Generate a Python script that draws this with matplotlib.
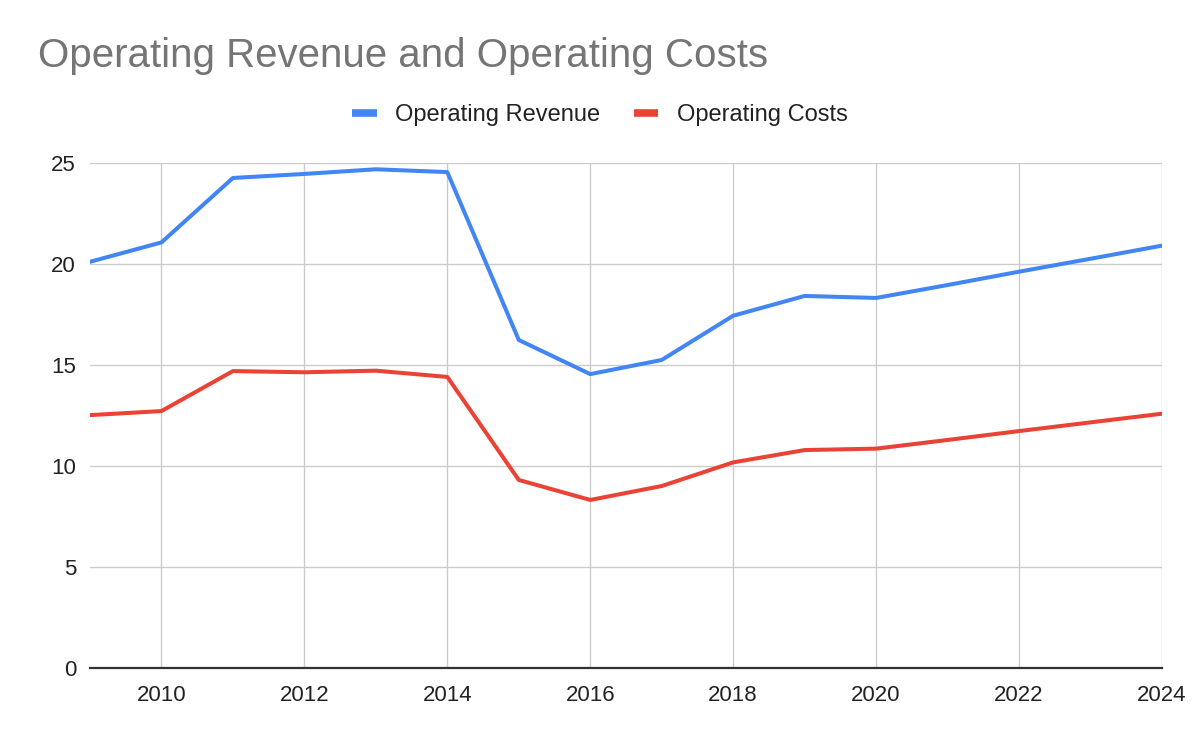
import matplotlib.pyplot as plt

plt.rcParams['font.family'] = ['Liberation Sans', 'DejaVu Sans']

years = [2009, 2010, 2011, 2012, 2013, 2014, 2015, 2016,
         2017, 2018, 2019, 2020, 2021, 2022, 2023, 2024]
revenue = [20.11, 21.07, 24.26, 24.46, 24.69, 24.55, 16.24, 14.55,
           15.25, 17.44, 18.42, 18.32, 18.96, 19.62, 20.26, 20.91]
costs = [12.52, 12.72, 14.70, 14.64, 14.72, 14.41, 9.31, 8.32,
         9.01, 10.18, 10.79, 10.86, 11.29, 11.73, 12.16, 12.59]

x_ticks = [2010, 2012, 2014, 2016, 2018, 2020, 2022, 2024]
y_ticks = [0, 5, 10, 15, 20, 25]

fig = plt.figure(figsize=(12, 7.42), dpi=100)
ax = fig.add_axes([0.075, 0.0997, 0.8933, 0.6806])

ax.plot(years, revenue, color='#4285F4', lw=2.9, label='Operating Revenue',
        solid_joinstyle='round')
ax.plot(years, costs, color='#EA4335', lw=2.9, label='Operating Costs',
        solid_joinstyle='round')

ax.set_xlim(2009, 2024)
ax.set_ylim(0, 25)
ax.set_xticks(x_ticks)
ax.set_yticks(y_ticks)
ax.grid(True, color='#CCCCCC', lw=1.0)
ax.set_axisbelow(True)

for s in ['top', 'right', 'left']:
    ax.spines[s].set_visible(False)
ax.spines['bottom'].set_color('#333333')
ax.spines['bottom'].set_linewidth(1.6)
ax.spines['bottom'].set_zorder(3)

ax.tick_params(axis='both', length=0, labelsize=16, labelcolor='#222222')
ax.tick_params(axis='x', pad=12)
ax.tick_params(axis='y', pad=10)

fig.text(0.032, 1 - 67 / 742, 'Operating Revenue and Operating Costs',
         fontsize=29, color='#757575', ha='left', va='baseline')

leg = fig.legend(loc='center', bbox_to_anchor=(0.5, 1 - 115 / 742), ncol=2,
                 frameon=False, fontsize=17, handlelength=1.05,
                 handletextpad=0.8, columnspacing=1.4)
for h in leg.get_lines():
    h.set_linewidth(5.5)
    h.set_solid_capstyle('butt')
for t in leg.get_texts():
    t.set_color('#222222')

fig.savefig('out.png', dpi=100)
